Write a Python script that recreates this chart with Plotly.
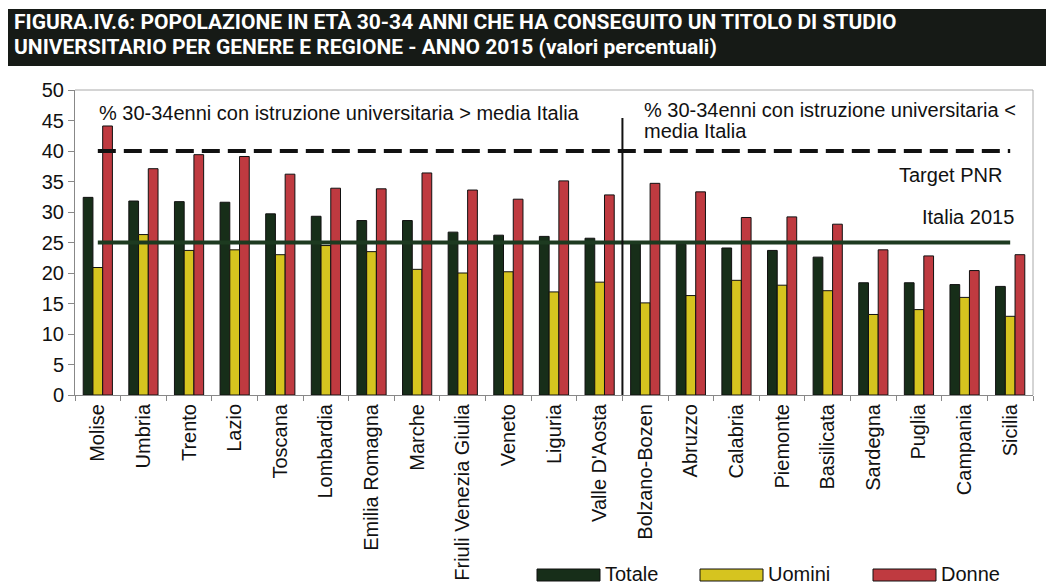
import plotly.graph_objects as go

regioni = ["Molise", "Umbria", "Trento", "Lazio", "Toscana", "Lombardia", "Emilia Romagna",
           "Marche", "Friuli Venezia Giulia", "Veneto", "Liguria", "Valle D'Aosta",
           "Bolzano-Bozen", "Abruzzo", "Calabria", "Piemonte", "Basilicata", "Sardegna",
           "Puglia", "Campania", "Sicilia"]
totale = [32.4, 31.8, 31.7, 31.6, 29.7, 29.3, 28.6, 28.6, 26.7, 26.2, 26.0, 25.7,
          24.8, 24.7, 24.1, 23.7, 22.6, 18.4, 18.4, 18.1, 17.8]
uomini = [20.9, 26.3, 23.7, 23.8, 23.0, 24.5, 23.5, 20.6, 20.0, 20.2, 16.9, 18.5,
          15.1, 16.3, 18.8, 18.0, 17.1, 13.2, 14.0, 16.0, 12.9]
donne = [44.1, 37.1, 39.4, 39.1, 36.2, 33.9, 33.8, 36.4, 33.6, 32.1, 35.1, 32.8,
         34.7, 33.3, 29.1, 29.2, 28.0, 23.8, 22.8, 20.4, 23.0]
target_pnr = 40
italia_2015 = 25

C_TOT = "#172e19"
C_UOM = "#d6c41f"
C_DON = "#bf3a40"
C_LINE = "#1d3a20"

# page offset (body margin) and figure size
OFF = 8
W, H = 1054 - OFF, 586 - OFF
# plot area in page pixels
PL, PR, PT, PB = 75, 1033, 90, 395
L, R, T, B = PL - OFF, W - (PR - OFF), PT - OFF, H - (PB - OFF)
PW, PH = W - L - R, H - T - B
def px(x):
    return (x - OFF - L) / PW
def py(y):
    return (H - B - (y - OFF)) / PH

FONT = "Liberation Sans, Arial, sans-serif"
TFONT = "Roboto, Liberation Sans, sans-serif"

fig = go.Figure()
for name, vals, col in [("Totale", totale, C_TOT), ("Uomini", uomini, C_UOM), ("Donne", donne, C_DON)]:
    fig.add_trace(go.Bar(x=regioni, y=vals, name=name, marker=dict(color=col, line=dict(color="#111111", width=1))))

fig.add_trace(go.Scatter(x=[regioni[0], regioni[-1]], y=[target_pnr, target_pnr], mode="lines",
                         line=dict(color="#111111", width=4, dash="18px,8px"), showlegend=False))
fig.add_trace(go.Scatter(x=[regioni[0], regioni[-1]], y=[italia_2015, italia_2015], mode="lines",
                         line=dict(color=C_LINE, width=4), showlegend=False))

shapes = []
# title banner
shapes.append(dict(type="rect", xref="paper", yref="paper", x0=px(8), x1=px(1054), y0=py(66), y1=py(9),
                   fillcolor="#161a16", line=dict(width=0), layer="below"))
# divider
shapes.append(dict(type="line", xref="x", yref="y", x0=11.5, x1=11.5, y0=0, y1=45.4,
                   line=dict(color="#111111", width=2)))
# frame top/right
shapes.append(dict(type="line", xref="paper", yref="paper", x0=0, x1=1, y0=1, y1=1, line=dict(color="#aaaaaa", width=1)))
shapes.append(dict(type="line", xref="paper", yref="paper", x0=1, x1=1, y0=0, y1=1, line=dict(color="#aaaaaa", width=1)))

annotations = [
    dict(xref="paper", yref="paper", x=px(12), y=py(22), xanchor="left", yanchor="middle",
         text="<b>FIGURA.IV.6: POPOLAZIONE IN ETÀ 30-34 ANNI CHE HA CONSEGUITO UN TITOLO DI STUDIO</b>",
         showarrow=False, font=dict(family=TFONT, size=21, color="white")),
    dict(xref="paper", yref="paper", x=px(12), y=py(47), xanchor="left", yanchor="middle",
         text="<b>UNIVERSITARIO PER GENERE E REGIONE - ANNO 2015 (valori percentuali)</b>",
         showarrow=False, font=dict(family=TFONT, size=21, color="white")),
    dict(xref="paper", yref="paper", x=px(97), y=py(113), xanchor="left", yanchor="middle",
         text="% 30-34enni con istruzione universitaria > media Italia", showarrow=False,
         font=dict(family=FONT, size=20, color="#111111")),
    dict(xref="paper", yref="paper", x=px(642), y=py(110), xanchor="left", yanchor="middle",
         text="% 30-34enni con istruzione universitaria <", showarrow=False,
         font=dict(family=FONT, size=20, color="#111111")),
    dict(xref="paper", yref="paper", x=px(642), y=py(131), xanchor="left", yanchor="middle",
         text="media Italia", showarrow=False,
         font=dict(family=FONT, size=20, color="#111111")),
    dict(xref="paper", yref="paper", x=px(1004), y=py(175), xanchor="right", yanchor="middle",
         text="Target PNR", showarrow=False,
         font=dict(family=FONT, size=20, color="#111111")),
    dict(xref="paper", yref="paper", x=px(1016), y=py(217), xanchor="right", yanchor="middle",
         text="Italia 2015", showarrow=False,
         font=dict(family=FONT, size=20, color="#111111")),
]

# custom legend
for lx, name, col in [(537, "Totale", C_TOT), (700, "Uomini", C_UOM), (873, "Donne", C_DON)]:
    shapes.append(dict(type="rect", xref="paper", yref="paper", x0=px(lx), x1=px(lx + 63), y0=py(581), y1=py(569),
                       fillcolor=col, line=dict(color="#111111", width=1)))
    annotations.append(dict(xref="paper", yref="paper", x=px(lx + 66), y=py(574), xanchor="left", yanchor="middle",
                            text=name, showarrow=False,
                            font=dict(family=FONT, size=20, color="#111111")))

fig.update_layout(
    width=W, height=H,
    margin=dict(l=L, r=R, t=T, b=B, autoexpand=False),
    paper_bgcolor="white", plot_bgcolor="white",
    barmode="group", bargap=0.36, bargroupgap=0,
    showlegend=False,
    shapes=shapes, annotations=annotations,
    font=dict(family=FONT, color="#111111"),
    xaxis=dict(type="category", tickangle=-90, tickfont=dict(size=20), showline=True, linecolor="#888888",
               ticks="outside", tickson="boundaries", ticklen=5, tickcolor="#888888", showgrid=False,
               automargin=False),
    yaxis=dict(range=[0, 50], dtick=5, tickfont=dict(size=20), showline=True, linecolor="#888888",
               ticks="outside", ticklen=6, tickcolor="#888888", showgrid=False, zeroline=False,
               automargin=False),
)

fig.write_html("out.html")
